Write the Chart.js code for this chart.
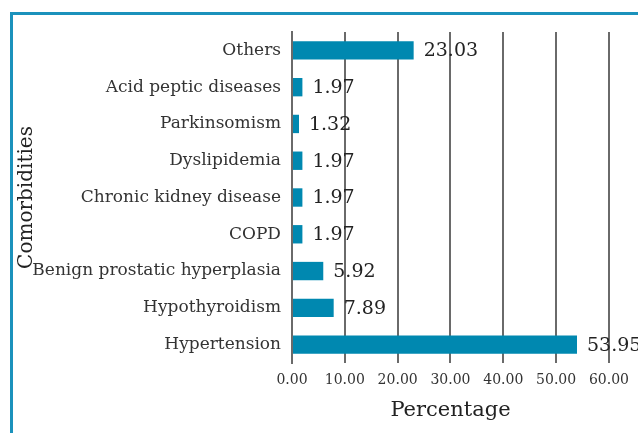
<!DOCTYPE html>
<html>
<head>
<meta charset="utf-8">
<script src="https://cdn.jsdelivr.net/npm/chart.js@4"></script>
<style>
  body { margin: 0; background: #fff; overflow: hidden; }
  #wrap { position: relative; width: 638px; height: 433px; }
  #frame { position: absolute; left: 10px; top: 12px; width: 700px; height: 500px; border: 3px solid #1b92bc; }
  canvas { position: absolute; left: 0; top: 0; }
</style>
</head>
<body>
<div id="wrap">
  <div id="frame"></div>
  <canvas id="chart" width="638" height="433"></canvas>
</div>
<script>
const categories = ['Others', 'Acid peptic diseases', 'Parkinsomism', 'Dyslipidemia', 'Chronic kidney disease', 'COPD', 'Benign prostatic hyperplasia', 'Hypothyroidism', 'Hypertension'];
const percentages = [23.03, 1.97, 1.32, 1.97, 1.97, 1.97, 5.92, 7.89, 53.95];

const font = 'DejaVu Serif';

// values next to the bars
const valueLabels = {
    id: 'valueLabels',
    afterDatasetsDraw(chart) {
        const ctx = chart.ctx;
        const meta = chart.getDatasetMeta(0);
        ctx.save();
        ctx.font = '19px "' + font + '"';
        ctx.fillStyle = '#222';
        ctx.textBaseline = 'middle';
        ctx.textAlign = 'left';
        meta.data.forEach(function (bar, i) {
            ctx.fillText(percentages[i].toFixed(2), bar.x + 10, bar.y + 1);
        });
        ctx.restore();
    }
};

new Chart(document.getElementById('chart').getContext('2d'), {
    type: 'bar',
    data: {
        labels: categories,
        datasets: [{
            data: percentages,
            backgroundColor: '#0088b0',
            barPercentage: 0.5,
            categoryPercentage: 1
        }]
    },
    options: {
        indexAxis: 'y',
        responsive: false,
        animation: false,
        layout: { padding: { left: 15, top: 32, right: 25, bottom: 6 } },
        plugins: { legend: { display: false }, tooltip: { enabled: false } },
        scales: {
            x: {
                min: 0,
                max: 60,
                ticks: {
                    stepSize: 10,
                    padding: 9,
                    color: '#333',
                    font: { family: font, size: 14 },
                    callback: function (v) { return v.toFixed(2); }
                },
                grid: { color: '#6a6a6a', lineWidth: 2, drawTicks: false },
                border: { display: false },
                title: { display: true, text: 'Percentage', color: '#222', font: { family: font, size: 21 }, padding: { top: 4 } },
                afterFit: function (s) { s.height = 64; }
            },
            y: {
                ticks: { color: '#333', font: { family: font, size: 17 }, padding: 11 },
                grid: { display: false, drawTicks: false },
                border: { display: true, color: '#6a6a6a', width: 2 },
                title: { display: true, text: 'Comorbidities', color: '#222', font: { family: font, size: 20 }, padding: 0 },
                afterFit: function (s) { s.width = 277; }
            }
        }
    },
    plugins: [valueLabels]
});
</script>
</body>
</html>
